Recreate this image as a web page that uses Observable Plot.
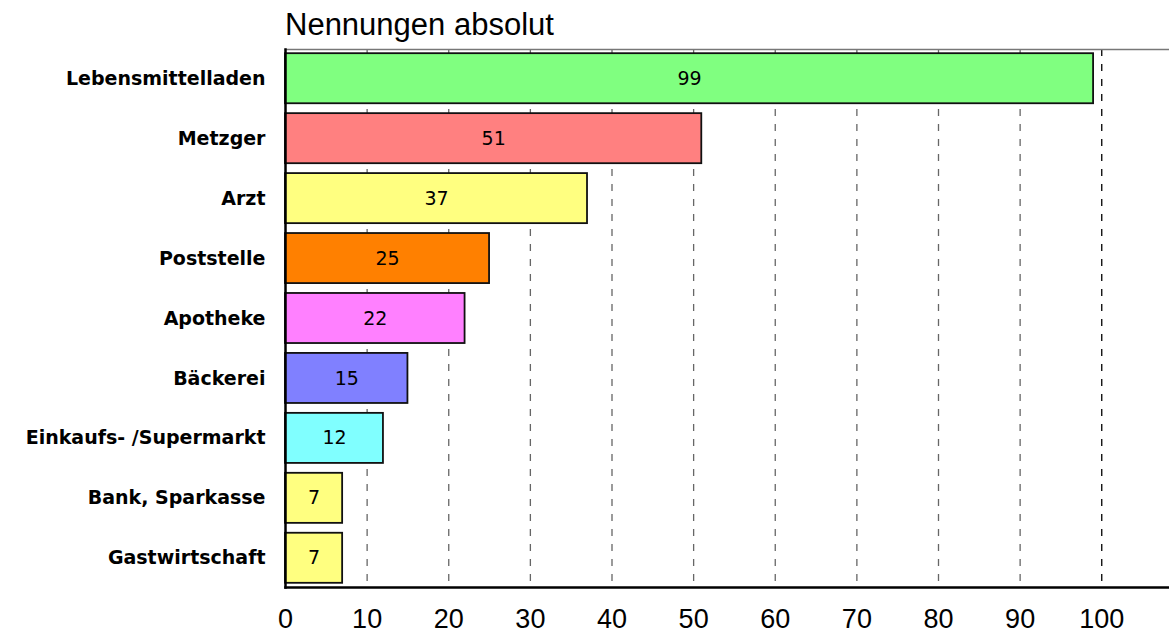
<!DOCTYPE html>
<html>
<head>
<meta charset="utf-8">
<script src="https://cdn.jsdelivr.net/npm/d3@7"></script>
<script src="https://cdn.jsdelivr.net/npm/@observablehq/plot@0.6"></script>
<style>
  html, body { margin: 0; padding: 0; background: #fff; }
  #title {
    height: 46px; box-sizing: border-box; padding: 5px 0 0 285px;
    font: 31px "Liberation Sans", Arial, sans-serif; line-height: 40px; color: #000;
  }
</style>
</head>
<body>
<div id="title">Nennungen absolut</div>
<div id="chart"></div>
<script>
const categories = ["Lebensmittelladen", "Metzger", "Arzt", "Poststelle", "Apotheke", "Bäckerei", "Einkaufs- /Supermarkt", "Bank, Sparkasse", "Gastwirtschaft"];
const values = [99, 51, 37, 25, 22, 15, 12, 7, 7];
const xTicks = [0, 10, 20, 30, 40, 50, 60, 70, 80, 90, 100];
const palette = ["#80FF80", "#FF8080", "#FFFF80", "#FF8000", "#FF80FF", "#8080FF", "#80FFFF", "#FFFF80", "#FFFF80"];

const data = categories.map((name, i) => ({name, value: values[i], color: palette[i]}));
const gridTicks = xTicks.filter(t => t > 0);

const chart = Plot.plot({
  width: 1169,
  height: 587,
  marginLeft: 285,
  marginRight: 0,
  marginTop: 3,
  marginBottom: 46,
  style: {background: "#fff", color: "#000"},
  x: {domain: [0, 108.3]},
  y: {domain: categories, paddingInner: 0.165, paddingOuter: 0.07, round: false, label: null},
  marks: [
    Plot.ruleX(gridTicks, {stroke: d => d === 100 ? "#000" : "#666", strokeWidth: 1.3, strokeDasharray: "7,8"}),
    Plot.frame({anchor: "top", stroke: "#777", strokeWidth: 1.5}),
    Plot.barX(data, {x: "value", y: "name", fill: "color", stroke: "#111", strokeWidth: 1.8}),
    Plot.text(data, {x: d => d.value / 2, y: "name", text: d => String(d.value), fontSize: 19, fontFamily: "DejaVu Sans, Verdana, sans-serif", fill: "#000"}),
    Plot.frame({anchor: "left", stroke: "#000", strokeWidth: 2.5}),
    Plot.frame({anchor: "bottom", stroke: "#000", strokeWidth: 2.5}),
    Plot.axisX({ticks: xTicks, tickSize: 0, tickPadding: 21, fontSize: 27, fontFamily: "Liberation Sans, Arial, sans-serif", label: null}),
    Plot.axisY({tickSize: 0, tickPadding: 20, fontSize: 19, fontWeight: "bold", fontFamily: "DejaVu Sans, Verdana, sans-serif", label: null})
  ]
});
document.getElementById("chart").appendChild(chart);
</script>
</body>
</html>
